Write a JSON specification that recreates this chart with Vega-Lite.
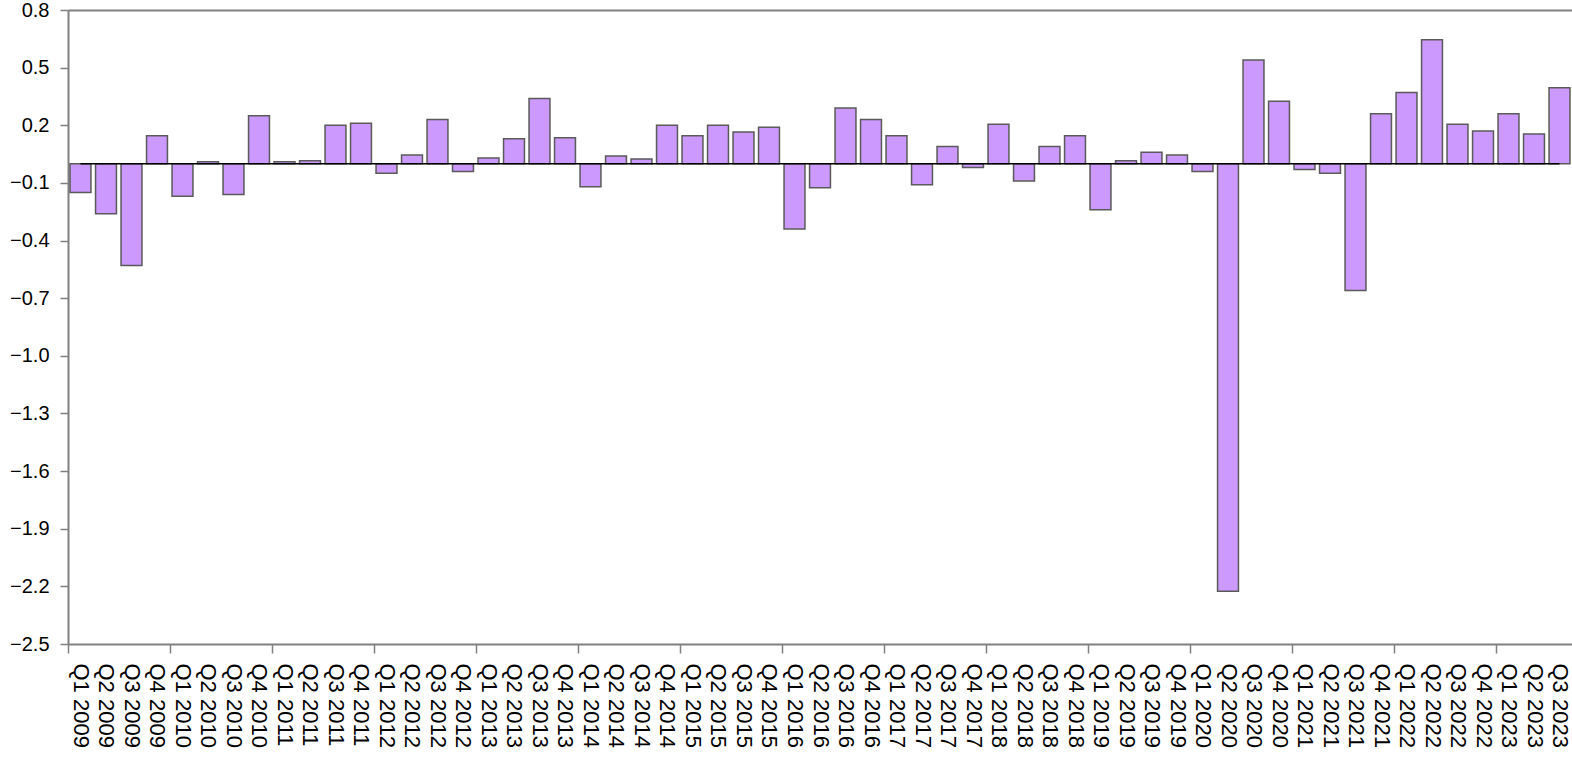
{
  "$schema": "https://vega.github.io/schema/vega-lite/v6.json",
  "width": 1504,
  "height": 634,
  "autosize": {"type": "none"},
  "padding": {"left": 68, "top": 10, "right": 0, "bottom": 113},
  "background": "white",
  "config": {
    "view": {"stroke": null},
    "font": "Liberation Sans"
  },
  "data": {
    "values": [
      {"q": "Q1 2009", "v": -0.15}, {"q": "Q2 2009", "v": -0.26}, {"q": "Q3 2009", "v": -0.53}, {"q": "Q4 2009", "v": 0.145},
      {"q": "Q1 2010", "v": -0.17}, {"q": "Q2 2010", "v": 0.01}, {"q": "Q3 2010", "v": -0.16}, {"q": "Q4 2010", "v": 0.25},
      {"q": "Q1 2011", "v": 0.01}, {"q": "Q2 2011", "v": 0.015}, {"q": "Q3 2011", "v": 0.2}, {"q": "Q4 2011", "v": 0.21},
      {"q": "Q1 2012", "v": -0.05}, {"q": "Q2 2012", "v": 0.045}, {"q": "Q3 2012", "v": 0.23}, {"q": "Q4 2012", "v": -0.04},
      {"q": "Q1 2013", "v": 0.03}, {"q": "Q2 2013", "v": 0.13}, {"q": "Q3 2013", "v": 0.34}, {"q": "Q4 2013", "v": 0.135},
      {"q": "Q1 2014", "v": -0.12}, {"q": "Q2 2014", "v": 0.04}, {"q": "Q3 2014", "v": 0.025}, {"q": "Q4 2014", "v": 0.2},
      {"q": "Q1 2015", "v": 0.145}, {"q": "Q2 2015", "v": 0.2}, {"q": "Q3 2015", "v": 0.165}, {"q": "Q4 2015", "v": 0.19},
      {"q": "Q1 2016", "v": -0.34}, {"q": "Q2 2016", "v": -0.125}, {"q": "Q3 2016", "v": 0.29}, {"q": "Q4 2016", "v": 0.23},
      {"q": "Q1 2017", "v": 0.145}, {"q": "Q2 2017", "v": -0.11}, {"q": "Q3 2017", "v": 0.09}, {"q": "Q4 2017", "v": -0.02},
      {"q": "Q1 2018", "v": 0.205}, {"q": "Q2 2018", "v": -0.09}, {"q": "Q3 2018", "v": 0.09}, {"q": "Q4 2018", "v": 0.145},
      {"q": "Q1 2019", "v": -0.24}, {"q": "Q2 2019", "v": 0.015}, {"q": "Q3 2019", "v": 0.06}, {"q": "Q4 2019", "v": 0.045},
      {"q": "Q1 2020", "v": -0.04}, {"q": "Q2 2020", "v": -2.225}, {"q": "Q3 2020", "v": 0.54}, {"q": "Q4 2020", "v": 0.325},
      {"q": "Q1 2021", "v": -0.03}, {"q": "Q2 2021", "v": -0.05}, {"q": "Q3 2021", "v": -0.66}, {"q": "Q4 2021", "v": 0.26},
      {"q": "Q1 2022", "v": 0.37}, {"q": "Q2 2022", "v": 0.645}, {"q": "Q3 2022", "v": 0.205}, {"q": "Q4 2022", "v": 0.17},
      {"q": "Q1 2023", "v": 0.26}, {"q": "Q2 2023", "v": 0.155}, {"q": "Q3 2023", "v": 0.395}
    ]
  },
  "encoding": {
    "x": {
      "field": "q",
      "type": "nominal",
      "sort": null,
      "scale": {"paddingInner": 0.18, "paddingOuter": 0.08},
      "axis": {
        "title": null,
        "labelAngle": 90,
        "labelAlign": "left",
        "labelBaseline": "middle",
        "labelFontSize": 22,
        "labelColor": "#000000",
        "labelPadding": 10,
        "labelOverlap": false,
        "labelFlush": false,
        "tickOffset": -12.75,
        "labelOffset": 12.75,
        "tickSize": 9,
        "tickWidth": 1.5,
        "tickColor": "#808080",
        "tickOpacity": {"condition": {"test": "indexof(datum.value, 'Q1') === 0", "value": 1}, "value": 0},
        "domainColor": "#808080",
        "domainWidth": 2,
        "grid": false
      }
    }
  },
  "layer": [
    {
      "mark": {"type": "bar", "fill": "#cc99ff", "stroke": "#5a5a5a", "strokeWidth": 1.5},
      "encoding": {
        "y": {
          "field": "v",
          "type": "quantitative",
          "scale": {"domain": [-2.5, 0.8], "nice": false, "zero": false},
          "axis": {
            "title": null,
            "values": [-2.5, -2.2, -1.9, -1.6, -1.3, -1.0, -0.7, -0.4, -0.1, 0.2, 0.5, 0.8],
            "format": ".1f",
            "labelFontSize": 20,
            "labelColor": "#000000",
            "labelPadding": 11,
            "tickSize": 8,
            "tickWidth": 1.5,
            "tickColor": "#808080",
            "domainColor": "#808080",
            "domainWidth": 2,
            "grid": true,
            "gridColor": "#808080",
            "gridWidth": 2,
            "gridOpacity": {"condition": {"test": "datum.value > 0.79", "value": 1}, "value": 0}
          }
        },
        "y2": {"datum": 0}
      }
    },
    {
      "mark": {"type": "line", "color": "#000000", "strokeWidth": 1.5},
      "encoding": {
        "y": {"datum": 0, "type": "quantitative"}
      }
    }
  ]
}
